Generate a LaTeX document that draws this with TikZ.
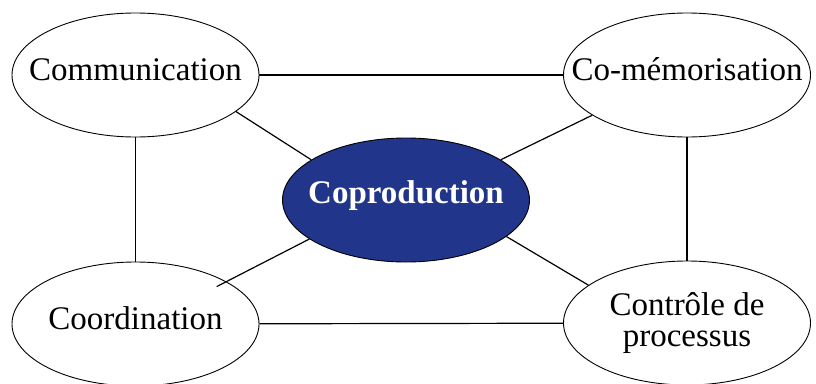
\documentclass[tikz,border=0pt]{standalone}
\usepackage{fontspec}
\setmainfont{Liberation Serif}
\usetikzlibrary{shapes.geometric}
\definecolor{coreblue}{RGB}{33,53,138}
\begin{document}
\begin{tikzpicture}[x=1pt, y=-1pt,
    bubble/.style={ellipse, draw, line width=0.9pt, minimum width=247pt, minimum height=124pt,
      inner xsep=-40pt, inner ysep=0pt, font=\fontsize{33}{31}\selectfont, align=center},
    oneline/.style={text height=22pt, text depth=#1},
    link/.style={line width=1.2pt}]
    \useasboundingbox (0,0) rectangle (816,383);
    \node[bubble, oneline=12pt] (comm) at (135.5,75) {Communication};
    \node[bubble, oneline=12pt] (memo) at (687,75) {Co-mémorisation};
    \node[bubble, oneline=16pt, fill=coreblue, text=white, font=\fontsize{33}{31}\selectfont\bfseries] (copro) at (406,200) {Coproduction};
    \node[bubble, oneline=12pt] (coord) at (135.5,324) {Coordination};
    \node[bubble] (ctrl) at (687,323) {Contrôle de\\processus};
    % outer square
    \draw[link] (comm) -- (memo);
    \draw[link] (comm) -- (coord);
    \draw[link] (memo) -- (ctrl);
    \draw[link] (coord) -- (ctrl);
    % spokes to the centre
    \draw[link] (comm.-20) -- (copro.157);
    \draw[link] (copro.23) -- (memo.-157);
    \draw[link, shorten >=-11pt] (copro.-158) -- (coord.25);
    \draw[link] (copro.-20) -- (ctrl.159);
\end{tikzpicture}
\end{document}
